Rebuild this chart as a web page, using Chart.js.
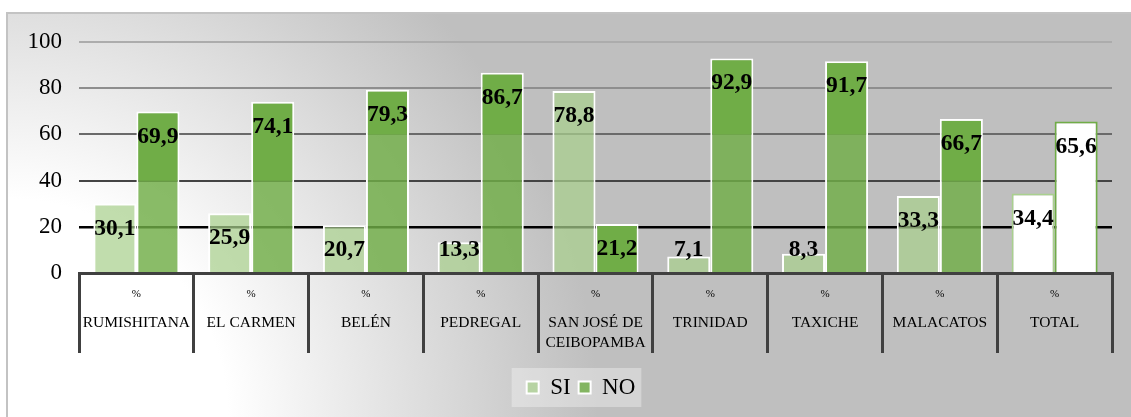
<!DOCTYPE html>
<html>
<head>
<meta charset="utf-8">
<script src="https://cdn.jsdelivr.net/npm/chart.js@4.4.1/dist/chart.umd.min.js"></script>
<style>
  html, body { margin: 0; padding: 0; background: #ffffff; }
  #wrap { position: relative; width: 1131px; height: 417px; overflow: hidden; }
  #frame {
    position: absolute; left: 6px; top: 12px; width: 1140px; height: 420px;
    box-sizing: border-box; border: 2px solid #c3c3c3;
    background: radial-gradient(circle at 0px 405px, #ffffff 220px, #bfbfbf 590px);
  }
  canvas { position: absolute; left: 0; top: 0; }
</style>
</head>
<body>
<div id="wrap">
  <div id="frame"></div>
  <canvas id="chart" width="1131" height="417"></canvas>
</div>
<script>
// data
const categories = ['RUMISHITANA', 'EL CARMEN', 'BELÉN', 'PEDREGAL', ['SAN JOSÉ DE', 'CEIBOPAMBA'],
    'TRINIDAD', 'TAXICHE', 'MALACATOS', 'TOTAL'];
const siValues = [30.1, 25.9, 20.7, 13.3, 78.8, 7.1, 8.3, 33.3, 34.4];
const noValues = [69.9, 74.1, 79.3, 86.7, 21.2, 92.9, 91.7, 66.7, 65.6];
const yTicks = [0, 20, 40, 60, 80, 100];
const unitLabel = '%';

const totalIndex = categories.indexOf('TOTAL');
const SERIF = "'Liberation Serif', 'Times New Roman', serif";

const SI_SOLID = '#a9d08e';
const SI_FILL = 'rgba(169, 208, 142, 0.72)';
const NO_SOLID = '#70ad47';
const NO_FILL = 'rgba(112, 173, 71, 0.82)';

function gridColor(value) {
    if (value === 100) return '#acacac';
    if (value === 80) return '#8e8e8e';
    if (value === 60) return '#6a6a6a';
    if (value === 40) return '#444444';
    if (value === 20) return '#000000';
    return 'rgba(0,0,0,0)';
}

function formatValue(v) {
    return v.toFixed(1).replace('.', ',');
}

/**
 * Move the legend a bit right (it is not centred on the canvas)
 * and draw a light box behind its entries
 */
const legendBackdrop = {
    id: 'legendBackdrop',
    afterLayout(chart) {
        if (chart.legend) chart.legend.left = 50;
    },
    beforeDraw(chart) {
        const boxes = chart.legend && chart.legend.legendHitBoxes;
        if (!boxes || !boxes.length) return;
        const left = Math.min(...boxes.map(b => b.left)) - 15;
        const right = Math.max(...boxes.map(b => b.left + b.width)) + 6;
        const top = boxes[0].top - 8;
        const bottom = boxes[0].top + boxes[0].height + 8;
        const ctx = chart.ctx;
        ctx.save();
        ctx.fillStyle = 'rgba(255, 255, 255, 0.33)';
        ctx.fillRect(left, top, right - left, bottom - top);
        ctx.restore();
    }
};

/**
 * Value labels inside the top of each bar
 */
const valueLabels = {
    id: 'valueLabels',
    afterDatasetsDraw(chart) {
        const ctx = chart.ctx;
        const yScale = chart.scales.y;
        ctx.save();
        chart.data.datasets.forEach((ds, di) => {
            const meta = chart.getDatasetMeta(di);
            meta.data.forEach((bar, i) => {
                const ly = Math.min(bar.y + 25, bar.base - 22);
                if (di === 1 && i !== totalIndex) {
                    const v = yScale.getValueForPixel(ly + 10);
                    const gy = yScale.getPixelForValue(Math.floor(v / 20) * 20);
                    const bottom = Math.min(gy, bar.base);
                    ctx.fillStyle = NO_SOLID;
                    ctx.fillRect(bar.x - bar.width / 2 + 2, bar.y + 2, bar.width - 4, bottom - bar.y - 2);
                }
                ctx.fillStyle = '#000000';
                ctx.font = 'bold 23.5px ' + SERIF;
                ctx.textAlign = 'center';
                ctx.textBaseline = 'middle';
                ctx.fillText(formatValue(ds.data[i]), bar.x, ly);
            });
        });
        ctx.restore();
    }
};

/**
 * Category labels below the axis: unit on top, name under it
 */
const categoryLabels = {
    id: 'categoryLabels',
    afterDraw(chart) {
        const ctx = chart.ctx;
        const xScale = chart.scales.x;
        ctx.save();
        ctx.fillStyle = '#000000';
        ctx.textAlign = 'center';
        ctx.textBaseline = 'middle';
        categories.forEach((cat, i) => {
            const x = xScale.getPixelForTick(i);
            ctx.font = '11px ' + SERIF;
            ctx.fillText(unitLabel, x, xScale.top + 21);
            ctx.font = '15.5px ' + SERIF;
            const lines = Array.isArray(cat) ? cat : [cat];
            lines.forEach((line, k) => {
                ctx.fillText(line, x, xScale.top + 50 + k * 20);
            });
        });
        ctx.restore();
    }
};

new Chart(document.getElementById('chart'), {
    type: 'bar',
    data: {
        labels: categories,
        datasets: [
            {
                label: 'SI',
                data: siValues,
                backgroundColor: ctx => ctx.dataIndex === totalIndex ? '#ffffff' : SI_FILL,
                borderColor: ctx => ctx.dataIndex === totalIndex ? SI_SOLID : '#ffffff',
                borderWidth: 2,
                categoryPercentage: 0.75,
                barPercentage: 1.0
            },
            {
                label: 'NO',
                data: noValues,
                backgroundColor: ctx => ctx.dataIndex === totalIndex ? '#ffffff' : NO_FILL,
                borderColor: ctx => ctx.dataIndex === totalIndex ? NO_SOLID : '#ffffff',
                borderWidth: 2,
                categoryPercentage: 0.75,
                barPercentage: 1.0
            }
        ]
    },
    options: {
        responsive: false,
        animation: false,
        devicePixelRatio: 1,
        layout: { padding: { left: 0, right: 19, top: 42, bottom: 8 } },
        scales: {
            x: {
                offset: true,
                grid: {
                    offset: true,
                    drawOnChartArea: false,
                    drawTicks: true,
                    tickLength: 80,
                    color: '#404040',
                    lineWidth: 3
                },
                border: { display: true, color: '#404040', width: 3 },
                ticks: { display: false },
                afterFit: s => { s.height = 95; }
            },
            y: {
                min: 0,
                max: 100,
                afterBuildTicks: s => { s.ticks = yTicks.map(v => ({ value: v })); },
                ticks: {
                    padding: 17,
                    color: '#000000',
                    font: { family: SERIF, size: 23 }
                },
                grid: {
                    drawTicks: false,
                    color: ctx => gridColor(ctx.tick.value),
                    lineWidth: ctx => ctx.tick.value === 20 ? 2.5 : 2
                },
                border: { display: false },
                afterFit: s => { s.width = 79; }
            }
        },
        plugins: {
            legend: {
                position: 'bottom',
                labels: {
                    boxWidth: 12,
                    boxHeight: 12,
                    padding: 8,
                    color: '#000000',
                    font: { family: SERIF, size: 23 }
                }
            },
            tooltip: { enabled: false }
        }
    },
    plugins: [legendBackdrop, valueLabels, categoryLabels]
});
</script>
</body>
</html>
